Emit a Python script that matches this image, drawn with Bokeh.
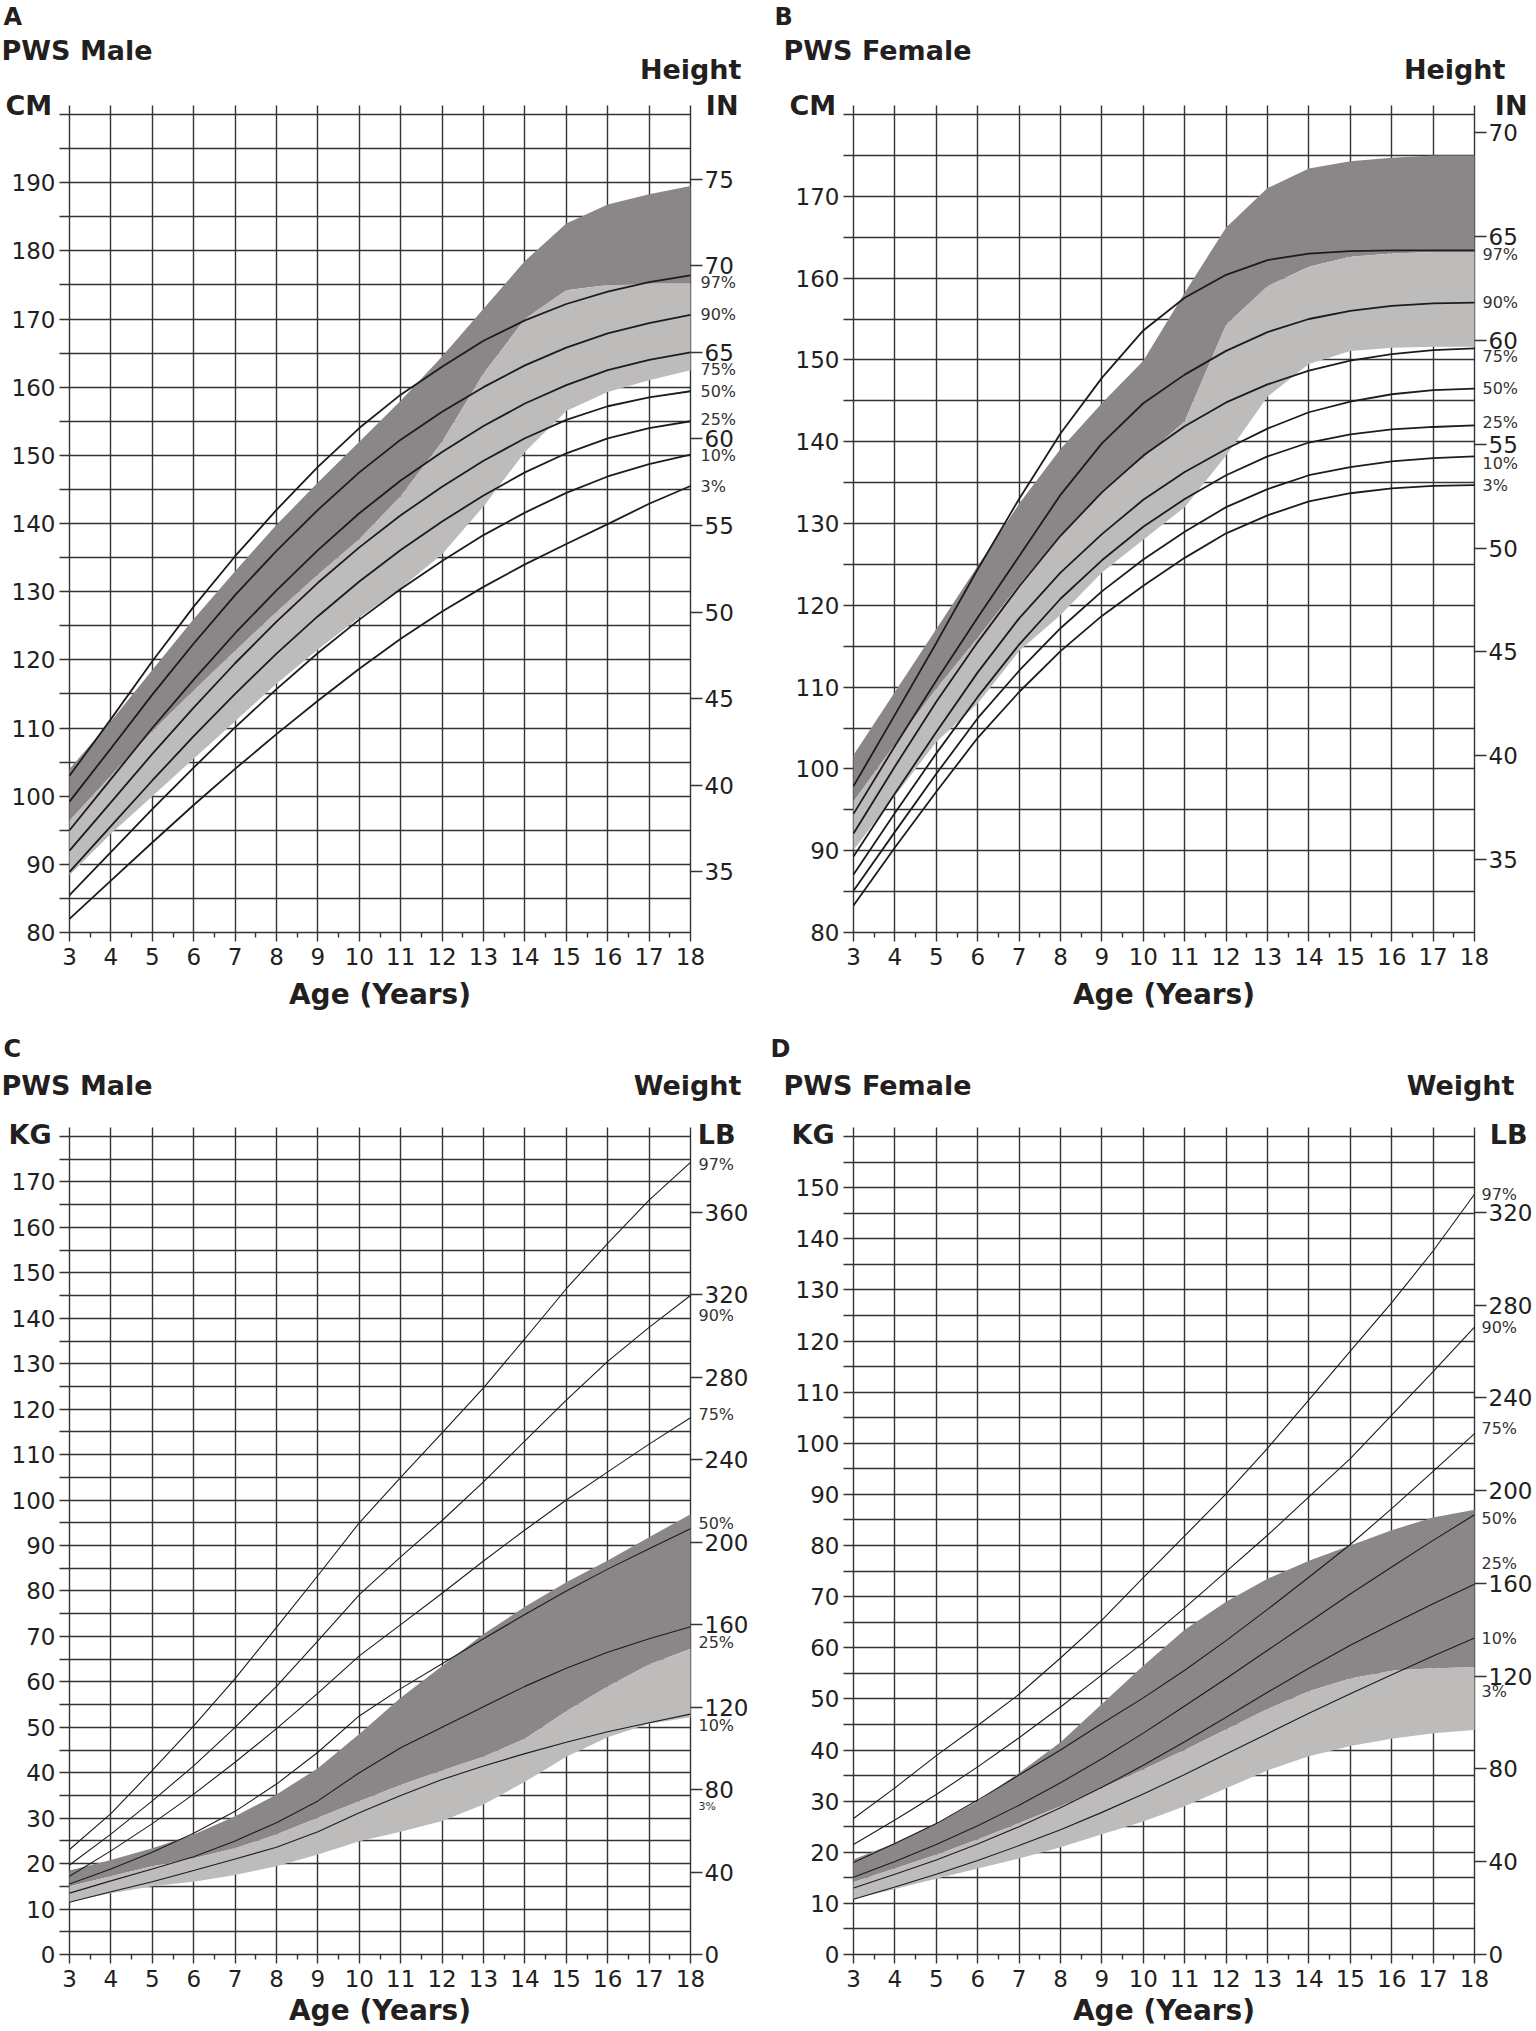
from bokeh.plotting import figure
from bokeh.models import Range1d, LinearAxis, FixedTicker, Label
from bokeh.layouts import row, column
from bokeh.embed import file_html
from bokeh.resources import INLINE

# ---------------- data ----------------
ages = [3, 4, 5, 6, 7, 8, 9, 10, 11, 12, 13, 14, 15, 16, 17, 18]
half_years = [3.5, 4.5, 5.5, 6.5, 7.5, 8.5, 9.5, 10.5, 11.5, 12.5, 13.5, 14.5, 15.5, 16.5, 17.5]
pct_names = ["97%", "90%", "75%", "50%", "25%", "10%", "3%"]

# A: PWS male height (cm)
a_p97 = [103.0, 111.3, 119.8, 127.8, 135.2, 142.0, 148.3, 154.0, 158.9, 163.0, 166.8, 169.8, 172.2, 174.0, 175.4, 176.4]
a_p90 = [99.2, 107.0, 114.9, 122.4, 129.5, 136.0, 142.0, 147.5, 152.3, 156.4, 160.0, 163.2, 165.8, 167.9, 169.4, 170.6]
a_p75 = [95.0, 102.5, 110.0, 117.1, 123.9, 130.2, 136.1, 141.5, 146.3, 150.5, 154.3, 157.6, 160.3, 162.5, 164.0, 165.1]
a_p50 = [92.0, 99.1, 106.2, 113.0, 119.5, 125.6, 131.3, 136.5, 141.2, 145.4, 149.2, 152.5, 155.2, 157.2, 158.5, 159.4]
a_p25 = [88.9, 95.6, 102.3, 108.8, 115.0, 120.9, 126.4, 131.5, 136.1, 140.3, 144.1, 147.5, 150.3, 152.5, 154.0, 155.0]
a_p10 = [85.5, 91.8, 98.1, 104.2, 110.1, 115.7, 121.0, 125.9, 130.4, 134.5, 138.3, 141.6, 144.5, 146.9, 148.7, 150.1]
a_p3 = [82.0, 87.6, 93.2, 98.7, 104.0, 109.1, 114.0, 118.7, 123.1, 127.1, 130.7, 134.0, 137.0, 139.9, 142.9, 145.5]
a_dark_hi = [104.0, 111.0, 118.5, 126.0, 133.0, 139.8, 146.0, 152.0, 158.0, 164.5, 171.5, 178.5, 184.0, 186.8, 188.3, 189.5]
a_light_hi = [96.4, 103.0, 109.5, 115.5, 121.3, 127.0, 132.5, 137.7, 144.0, 152.0, 162.0, 170.0, 174.2, 175.0, 175.2, 175.2]
a_light_lo = [88.4, 94.5, 100.0, 105.5, 111.0, 116.5, 121.5, 126.2, 130.5, 135.5, 142.5, 150.5, 156.5, 159.3, 161.0, 162.5]

# B: PWS female height (cm)
b_p97 = [97.9, 106.6, 115.4, 124.4, 133.0, 141.0, 147.8, 153.6, 157.6, 160.4, 162.2, 163.0, 163.3, 163.4, 163.4, 163.4]
b_p90 = [94.5, 102.8, 110.8, 118.5, 126.0, 133.5, 139.8, 144.7, 148.2, 151.1, 153.4, 155.0, 156.0, 156.6, 156.9, 157.0]
b_p75 = [92.1, 100.3, 108.2, 115.5, 122.3, 128.5, 133.8, 138.3, 141.9, 144.8, 147.0, 148.7, 149.9, 150.7, 151.2, 151.4]
b_p50 = [89.3, 97.0, 104.5, 111.8, 118.4, 124.0, 128.7, 132.9, 136.3, 139.1, 141.6, 143.6, 144.9, 145.8, 146.3, 146.5]
b_p25 = [87.1, 94.6, 101.9, 108.8, 115.2, 120.8, 125.5, 129.6, 133.0, 135.9, 138.2, 139.9, 140.9, 141.5, 141.8, 142.0]
b_p10 = [85.1, 92.3, 99.4, 106.2, 112.0, 117.2, 121.7, 125.6, 129.0, 132.0, 134.2, 135.9, 136.9, 137.6, 138.0, 138.2]
b_p3 = [83.3, 90.4, 97.2, 103.8, 109.4, 114.4, 118.7, 122.4, 125.8, 128.8, 131.0, 132.7, 133.7, 134.3, 134.6, 134.7]
b_dark_hi = [101.7, 109.4, 117.1, 124.8, 132.4, 139.1, 144.7, 149.9, 158.2, 166.2, 171.0, 173.4, 174.3, 174.7, 175.0, 175.0]
b_light_hi = [96.0, 103.0, 109.8, 116.0, 122.5, 128.5, 133.8, 138.0, 142.5, 154.3, 159.0, 161.4, 162.6, 163.0, 163.2, 163.2]
b_light_lo = [90.1, 96.7, 103.3, 108.0, 114.4, 118.8, 124.0, 128.0, 132.0, 138.3, 145.5, 149.5, 151.1, 151.5, 151.6, 151.6]

# C: PWS male weight (kg)
c_p97 = [23.1, 31.0, 40.5, 50.3, 60.7, 72.0, 83.4, 95.0, 105.0, 114.8, 124.7, 135.5, 146.5, 156.5, 166.0, 174.3]
c_p90 = [19.7, 26.5, 33.8, 41.5, 50.0, 59.0, 69.0, 79.2, 87.5, 95.5, 104.0, 113.0, 122.0, 130.5, 138.0, 145.0]
c_p75 = [17.2, 22.8, 28.8, 35.3, 42.3, 49.7, 57.5, 65.7, 72.6, 79.5, 86.6, 93.4, 100.0, 106.2, 112.3, 118.1]
c_p50 = [15.5, 18.8, 22.5, 26.7, 31.5, 37.5, 44.5, 52.5, 58.5, 64.0, 69.5, 74.8, 80.0, 84.8, 89.3, 93.7]
c_p25 = [13.5, 16.2, 18.8, 21.5, 25.0, 29.0, 33.8, 40.0, 45.5, 50.0, 54.5, 59.0, 63.0, 66.5, 69.5, 72.1]
c_p10 = [11.5, 13.8, 16.0, 18.5, 21.0, 23.6, 27.0, 31.2, 35.0, 38.5, 41.5, 44.2, 46.7, 49.0, 51.0, 52.9]
c_dark_hi = [18.5, 20.8, 23.4, 26.4, 30.4, 35.2, 41.0, 48.5, 56.5, 63.5, 70.5, 76.5, 81.9, 86.7, 91.8, 96.9]
c_light_hi = [15.0, 17.2, 19.4, 21.2, 23.4, 26.4, 30.1, 33.7, 37.3, 40.5, 43.5, 47.5, 53.5, 59.0, 63.8, 67.3]
c_light_lo = [11.6, 13.5, 15.0, 16.0, 17.5, 19.4, 22.0, 24.9, 27.0, 29.4, 33.0, 38.0, 43.5, 47.8, 50.8, 52.2]

# D: PWS female weight (kg)
d_p97 = [26.6, 32.6, 38.9, 44.8, 50.9, 58.0, 65.4, 73.7, 81.9, 90.1, 99.0, 108.5, 118.0, 127.5, 137.6, 148.7]
d_p90 = [21.5, 26.3, 31.3, 36.7, 42.4, 48.4, 54.7, 61.0, 67.8, 74.9, 82.0, 89.5, 97.0, 105.5, 114.0, 122.7]
d_p75 = [18.0, 21.7, 25.6, 30.2, 35.1, 40.0, 45.2, 50.2, 55.6, 61.4, 67.5, 73.8, 80.2, 87.2, 94.5, 101.9]
d_p50 = [15.1, 18.2, 21.5, 25.2, 29.2, 33.6, 38.3, 43.3, 48.6, 54.0, 59.5, 65.0, 70.5, 75.8, 81.0, 86.0]
d_p25 = [13.0, 15.7, 18.5, 21.6, 25.0, 28.7, 32.7, 37.0, 41.6, 46.4, 51.3, 56.0, 60.5, 64.6, 68.6, 72.4]
d_p10 = [10.8, 13.2, 15.7, 18.4, 21.3, 24.4, 27.8, 31.4, 35.2, 39.2, 43.2, 47.2, 51.0, 54.7, 58.4, 61.9]
d_dark_hi = [18.6, 21.8, 25.6, 30.0, 35.5, 41.5, 49.0, 56.5, 63.5, 69.0, 73.5, 77.0, 80.0, 83.0, 85.5, 87.0]
d_light_hi = [14.2, 16.8, 19.5, 22.5, 25.7, 29.0, 32.5, 36.2, 40.0, 44.0, 48.0, 51.5, 54.0, 55.5, 56.0, 56.2]
d_light_lo = [10.8, 12.8, 14.8, 16.8, 18.8, 21.0, 23.5, 26.0, 29.0, 32.5, 36.0, 38.8, 40.8, 42.2, 43.3, 43.9]

inch_ticks_a = [35, 40, 45, 50, 55, 60, 65, 70, 75]
inch_ticks_b = [35, 40, 45, 50, 55, 60, 65, 70]
lb_ticks_c = [0, 40, 80, 120, 160, 200, 240, 280, 320, 360]
lb_ticks_d = [0, 40, 80, 120, 160, 200, 240, 280, 320]

# ---------------- style ----------------
FONT = "DejaVu Sans"
INK = "#231f20"
LINE = "#1c1c1c"
GRID = "#333333"
DARK = "#8b8687"
LIGHT = "#bebbbb"
CM_PER_IN = 2.54
LB_PER_KG = 2.20462
TICK_SIZE = "23px"


def style_axis(ax, size=TICK_SIZE):
    ax.axis_line_color = None
    ax.major_tick_line_color = GRID
    ax.major_tick_line_width = 1.4
    ax.minor_tick_line_color = GRID
    ax.minor_tick_line_width = 1.4
    ax.major_tick_in = 0
    ax.minor_tick_in = 0
    ax.major_label_text_font = FONT
    ax.major_label_text_font_size = size
    ax.major_label_text_color = INK


def label(p, x, y, text, dx, dy, size, bold=True, align="left", color=INK):
    p.add_layout(Label(x=x, y=y, text=text, x_offset=dx, y_offset=dy,
                       text_font=FONT, text_font_size=size,
                       text_font_style="bold" if bold else "normal",
                       text_align=align, text_baseline="middle", text_color=color))


def build(letter, group, measure, unit_l, unit_r, y_lo, y_hi, conv, right_ticks,
          curves, anchors, label_dy, label_sizes, dark_hi, light_hi, light_lo,
          width, height, box, line_w, tx, ty, pct_dx):
    # box = chart area (left, right, top, bottom) in canvas pixels
    l, r, t, b = box
    ppx = (r - l) / (ages[-1] - ages[0])
    ppy = (b - t) / (y_hi - y_lo)
    xr = Range1d(ages[0] - l / ppx, ages[-1] + (width - r) / ppx)
    yr = Range1d(y_lo - (height - b) / ppy, y_hi + t / ppy)

    p = figure(width=width, height=height, x_range=xr, y_range=yr,
               output_backend="svg", toolbar_location=None, min_border=0,
               x_axis_location=None, y_axis_location=None,
               background_fill_color="white", border_fill_color="white")
    p.outline_line_color = None
    p.grid.visible = False
    if p.title is not None:
        p.title.visible = False

    # bottom axis: year ticks; inward ticks draw the vertical grid lines
    xa = LinearAxis(fixed_location=y_lo, ticker=FixedTicker(ticks=ages, minor_ticks=half_years))
    style_axis(xa)
    xa.major_tick_out = 9
    xa.major_tick_in = (b - t) + 9
    xa.minor_tick_out = 5
    xa.major_label_standoff = 6
    xa.level = "underlay"
    p.add_layout(xa, "below")

    # left axis: labels every 10, inward ticks every 5 draw horizontal grid lines
    majors = list(range(y_lo, y_hi, 10))
    minors = [v for v in range(y_lo, y_hi + 1, 5) if v not in majors]
    ya = LinearAxis(fixed_location=ages[0], ticker=FixedTicker(ticks=majors, minor_ticks=minors))
    style_axis(ya)
    ya.major_tick_out = 10
    ya.minor_tick_out = 10
    ya.major_tick_in = r - l
    ya.minor_tick_in = r - l
    ya.major_label_standoff = 4
    ya.level = "underlay"
    p.add_layout(ya, "left")

    # right axis in inches / pounds
    p.extra_y_ranges = {"alt": Range1d(yr.start * conv, yr.end * conv)}
    ra = LinearAxis(y_range_name="alt", fixed_location=ages[-1], ticker=FixedTicker(ticks=right_ticks))
    style_axis(ra)
    ra.major_tick_out = 12
    ra.major_label_standoff = 2
    p.add_layout(ra, "right")

    p.varea(x=ages, y1=light_hi, y2=dark_hi, fill_color=DARK)
    p.varea(x=ages, y1=light_lo, y2=light_hi, fill_color=LIGHT)
    for c in curves:
        p.line(ages, c, line_color=LINE, line_width=line_w)

    for name, anc, dy, sz in zip(pct_names, anchors, label_dy, label_sizes):
        label(p, ages[-1], anc[-1], name, pct_dx, -dy, sz, bold=False, color="#333333")

    label(p, ages[0], y_hi, letter, tx["letter"], ty["letter"], "24px")
    label(p, ages[0], y_hi, group, tx["group"], ty["group"], "27px")
    label(p, ages[-1], y_hi, measure, tx["measure"], ty["measure"], "27px", align="right")
    label(p, ages[0], y_hi, unit_l, tx["unit_l"], ty["units"], "27px")
    label(p, ages[-1], y_hi, unit_r, tx["unit_r"], ty["units"], "27px", align="right")
    label(p, (ages[0] + ages[-1]) / 2, y_lo, "Age (Years)", 0, ty["age"], "28px", align="center")
    return p


ty_top = dict(letter=98, group=64, measure=45, units=9, age=-62)
ty_bot = dict(letter=88, group=51, measure=51, units=2, age=-56)

pA = build("A", "PWS Male", "Height", "CM", "IN", 80, 200, 1 / CM_PER_IN, inch_ticks_a,
           [a_p97, a_p90, a_p75, a_p50, a_p25, a_p10, a_p3],
           [a_p97, a_p90, a_p75, a_p50, a_p25, a_p10, a_p3],
           [7, 0, 17, 0, -2, 1, 0], ["16px"] * 7,
           a_dark_hi, a_light_hi, a_light_lo,
           768, 1020, (69, 690, 114, 932), 1.8,
           dict(letter=-66, group=-68, measure=51, unit_l=-64, unit_r=48), ty_top, 10)

pB = build("B", "PWS Female", "Height", "CM", "IN", 80, 180, 1 / CM_PER_IN, inch_ticks_b,
           [b_p97, b_p90, b_p75, b_p50, b_p25, b_p10, b_p3],
           [b_p97, b_p90, b_p75, b_p50, b_p25, b_p10, b_p3],
           [4, 0, 8, 0, -3, 7, 0], ["16px"] * 7,
           b_dark_hi, b_light_hi, b_light_lo,
           766, 1020, (85, 706, 114, 932), 1.8,
           dict(letter=-79, group=-70, measure=31, unit_l=-64, unit_r=53), ty_top, 8)

pC = build("C", "PWS Male", "Weight", "KG", "LB", 0, 180, LB_PER_KG, lb_ticks_c,
           [c_p97, c_p90, c_p75, c_p50, c_p25, c_p10],
           [c_p97, c_p90, c_p75, c_p50, c_p25, c_p10, c_p10],
           [2, 20, -3, -5, 16, 11, 92], ["16px"] * 6 + ["11px"],
           c_dark_hi, c_light_hi, c_light_lo,
           768, 1009, (69, 690, 116, 934), 1.1,
           dict(letter=-66, group=-68, measure=51, unit_l=-61, unit_r=45), ty_bot, 8)

pD = build("D", "PWS Female", "Weight", "KG", "LB", 0, 160, LB_PER_KG, lb_ticks_d,
           [d_p97, d_p90, d_p75, d_p50, d_p25, d_p10],
           [d_p97, d_p90, d_p75, d_p50, d_p25, d_p10, d_p10],
           [0, 0, -5, 4, -21, 0, 53], ["16px"] * 7,
           d_dark_hi, d_light_hi, d_light_lo,
           766, 1009, (85, 706, 116, 934), 1.1,
           dict(letter=-83, group=-70, measure=40, unit_l=-62, unit_r=53), ty_bot, 7)

layout = column(row(pA, pB), row(pC, pD))

with open("out.html", "w") as f:
    f.write(file_html(layout, INLINE))
